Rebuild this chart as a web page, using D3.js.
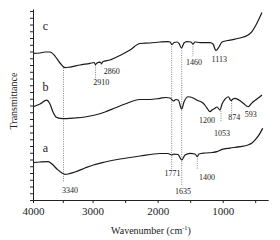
<!DOCTYPE html>
<html>
<head>
<meta charset="utf-8">
<script src="https://cdn.jsdelivr.net/npm/d3@7"></script>
<style>
  html, body { margin: 0; padding: 0; background: #fff; }
  svg { display: block; }
  text { font-family: "Liberation Serif", "Times New Roman", serif; fill: #222; }
</style>
</head>
<body>
<svg id="chart" width="280" height="240"></svg>
<script>
// ---- data (wavenumber cm^-1, transmittance in arbitrary units) ----
const curveLabels = ["a", "b", "c"];
const xTickValues = [4000, 3500, 3000, 2500, 2000, 1500, 1000, 500];
const xTickLabels = ["4000", "", "3000", "", "2000", "", "1000", ""];

const seriesC = [[4000,21.73],[3883,21.78],[3799,21.93],[3715,21.93],[3631,21.33],[3547,20.30],[3463,19.60],[3379,19.70],[3211,20.00],[3044,20.25],[2978,20.37],[2955,20.07],[2932,20.30],[2886,20.44],[2863,20.22],[2840,20.52],[2733,20.74],[2579,21.41],[2425,22.22],[2271,23.19],[2118,23.26],[1964,23.41],[1841,23.48],[1810,23.41],[1779,23.04],[1749,23.33],[1703,23.41],[1672,23.19],[1633,22.52],[1595,23.26],[1549,23.48],[1487,23.41],[1457,23.11],[1426,23.41],[1349,23.33],[1272,23.33],[1195,23.33],[1149,23.11],[1103,22.15],[1057,22.67],[1010,23.41],[888,23.70],[734,24.00],[611,24.44],[550,24.96],[488,25.93],[442,26.81],[396,27.78]];

const seriesB = [[4000,13.82],[3883,14.22],[3770,14.81],[3715,14.22],[3664,13.04],[3614,12.30],[3547,12.10],[3435,12.07],[3295,12.15],[3127,12.30],[2963,12.59],[2809,13.04],[2656,13.63],[2502,14.22],[2271,14.89],[2118,14.89],[1964,15.07],[1872,15.19],[1810,15.11],[1759,14.67],[1718,14.89],[1683,14.81],[1630,13.48],[1595,14.52],[1529,15.30],[1472,15.19],[1400,14.81],[1298,14.33],[1241,13.63],[1195,13.08],[1164,13.33],[1118,13.59],[1088,13.78],[1041,13.33],[1010,14.22],[964,14.96],[914,15.30],[872,14.74],[842,14.96],[811,15.07],[750,14.81],[683,14.33],[607,13.82],[565,14.22],[530,14.56],[473,14.96],[427,15.30],[396,15.56]];

const seriesA = [[4000,5.53],[3883,5.63],[3743,5.70],[3681,5.33],[3597,4.59],[3513,4.00],[3463,3.81],[3413,3.85],[3295,4.15],[3127,4.74],[2989,5.19],[2809,5.63],[2579,6.07],[2271,6.52],[1964,6.89],[1841,6.89],[1784,6.67],[1749,6.81],[1687,6.74],[1630,5.93],[1579,6.67],[1503,6.92],[1426,6.81],[1390,6.44],[1364,6.81],[1272,6.96],[1164,7.04],[1088,7.16],[1010,7.51],[888,7.70],[734,7.90],[611,8.15],[550,8.44],[488,9.04],[427,9.88],[385,10.62]];

// curve label anchors [wavenumber, transmittance]
const curveLabelPos = [[3790, 7.1], [3790, 16.1], [3790, 25.2]];

// peak annotations: dotted line at w from t1 to t2, label at (lw, lt)
const peakLabels = ["3340","2910","2860","1771","1635","1460","1113","1400","1200","1053","874","593"];
const peakLineW  = [3488, 2955, 2866, 1784, 1630, 1457, null, 1390, null, 1026, 862, null];
const peakLineT1 = [19.6, 20.0, 20.2, 23.1, 22.5, 23.1, null, 6.5, null, 13.2, 14.7, null];
const peakLineT2 = [2.67, 17.7, 19.8, 4.6, 2.2, 21.3, null, 4.6, null, 11.6, 12.7, null];
const peakLabelW = [3379, 2866, 2706, 1772, 1610, 1441, 1053, 1241, 1241, 1010, 821, 570];
const peakLabelT = [1.04, 17.08, 18.67, 3.51, 0.93, 20.04, 20.4, 3.0, 11.41, 9.53, 11.81, 12.25];

// ---- drawing ----
const svg = d3.select("#chart");

const x = d3.scaleLinear().domain([4000, 3000, 300]).range([33, 92.6, 268.2]);
const y = d3.scaleLinear().domain([0, 28.3]).range([200, 9]);

// peak dotted lines (behind curves)
const lines = peakLabels.map((l, i) => ({w: peakLineW[i], t1: peakLineT1[i], t2: peakLineT2[i]})).filter(d => d.w !== null);
svg.append("g").selectAll("line").data(lines).join("line")
  .attr("x1", d => x(d.w)).attr("x2", d => x(d.w))
  .attr("y1", d => y(d.t1)).attr("y2", d => y(d.t2))
  .attr("stroke", "#666").attr("stroke-width", 0.8)
  .attr("stroke-dasharray", "1,1.3");

// curves
const line = d3.line().x(d => x(d[0])).y(d => y(d[1])).curve(d3.curveMonotoneX);
svg.append("g").selectAll("path").data([seriesA, seriesB, seriesC]).join("path")
  .attr("d", line)
  .attr("fill", "none").attr("stroke", "#1a1a1a").attr("stroke-width", 1.2)
  .attr("stroke-linejoin", "round");

// axes
const xAxis = d3.axisBottom(x).tickValues(xTickValues)
  .tickFormat((d, i) => xTickLabels[i]).tickSize(3).tickSizeOuter(0).tickPadding(4);
const gx = svg.append("g").attr("transform", "translate(0,200)").call(xAxis);
gx.selectAll("text").attr("font-size", 11).style("font-family", '"Liberation Serif", serif').attr("fill", "#222");

const yAxis = d3.axisLeft(y).tickValues(d3.range(0, 29)).tickFormat("").tickSize(3).tickSizeOuter(0);
const gy = svg.append("g").attr("transform", "translate(33,0)").call(yAxis);

svg.selectAll(".domain, .tick line").attr("stroke", "#222").attr("stroke-width", 1);

// axis titles
const xt = svg.append("text").attr("x", 151).attr("y", 234).attr("text-anchor", "middle").attr("font-size", 10);
xt.append("tspan").text("Wavenumber (cm");
xt.append("tspan").attr("font-size", 6.5).attr("dy", -4).text("-1");
xt.append("tspan").attr("dy", 4).text(")");

svg.append("text").attr("transform", "translate(17,101) rotate(-90)")
  .attr("text-anchor", "middle").attr("font-size", 10).text("Transmittance");

// curve labels
svg.append("g").selectAll("text").data(curveLabels).join("text")
  .attr("x", (d, i) => x(curveLabelPos[i][0])).attr("y", (d, i) => y(curveLabelPos[i][1]))
  .attr("text-anchor", "middle").attr("font-size", 12).text(d => d);

// peak labels
svg.append("g").selectAll("text").data(peakLabels).join("text")
  .attr("x", (d, i) => x(peakLabelW[i])).attr("y", (d, i) => y(peakLabelT[i]))
  .attr("text-anchor", "middle").attr("font-size", 8).text(d => d);
</script>
</body>
</html>
